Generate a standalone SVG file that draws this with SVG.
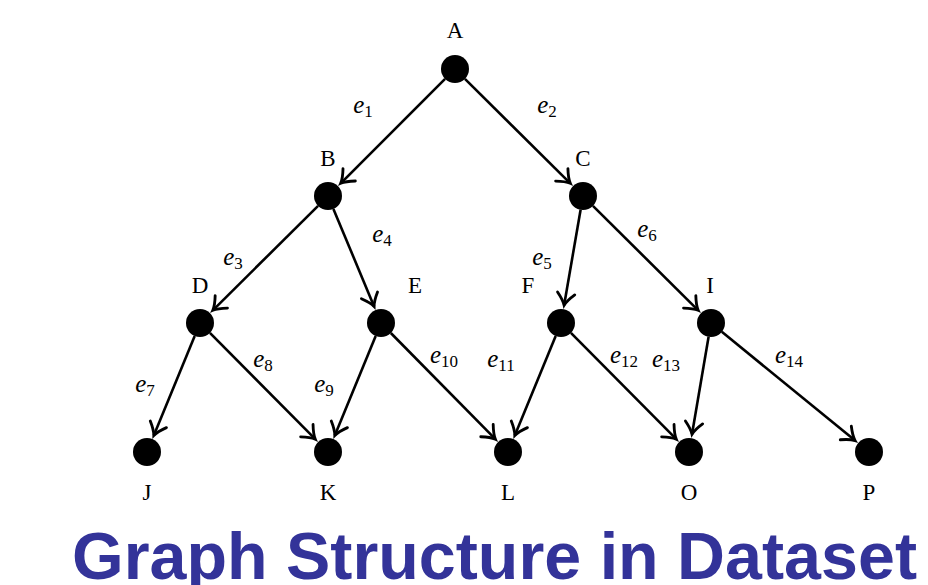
<svg xmlns="http://www.w3.org/2000/svg" width="928" height="585" viewBox="0 0 928 585">
<style>
.node{fill:#000}
.lbl{font-family:"Liberation Serif","DejaVu Serif",serif;font-size:23px;fill:#000;text-anchor:middle}
.el{font-family:"Liberation Serif","DejaVu Serif",serif;font-style:italic;font-size:25px;fill:#000;text-anchor:middle}
.sub{font-style:normal;font-size:17px}
.edge{stroke:#000;stroke-width:2.6;fill:none;marker-end:url(#arr)}
.title{font-family:"Liberation Sans",Arial,sans-serif;font-weight:bold;font-size:66px;fill:#333399}
</style>
<defs>
<marker id="arr" markerUnits="userSpaceOnUse" markerWidth="24" markerHeight="24" refX="0" refY="0" viewBox="-13 -11 15 22" orient="auto" overflow="visible">
<path d="M-11,-8 Q-4.5,-1.8 0,0 Q-4.5,1.8 -11,8" stroke="#000" stroke-width="2.6" fill="none" stroke-linecap="round"/>
</marker>
</defs>
<g id="connectors">
<line class="edge" x1="445.1" y1="78.9" x2="340.7" y2="183.3"/>
<line class="edge" x1="464.9" y1="78.9" x2="570.3" y2="183.3"/>
<line class="edge" x1="318.1" y1="205.9" x2="212.8" y2="310.3"/>
<line class="edge" x1="333.4" y1="208.9" x2="374.1" y2="306.4"/>
<line class="edge" x1="580.6" y1="209.8" x2="564.1" y2="305.3"/>
<line class="edge" x1="592.9" y1="205.9" x2="698.2" y2="310.3"/>
<line class="edge" x1="194.7" y1="336.0" x2="153.8" y2="435.4"/>
<line class="edge" x1="209.9" y1="332.9" x2="315.3" y2="439.2"/>
<line class="edge" x1="375.7" y1="336.0" x2="334.8" y2="435.4"/>
<line class="edge" x1="390.8" y1="333.0" x2="495.4" y2="439.2"/>
<line class="edge" x1="555.7" y1="336.0" x2="514.8" y2="435.4"/>
<line class="edge" x1="570.9" y1="332.9" x2="676.3" y2="439.2"/>
<line class="edge" x1="708.6" y1="336.8" x2="692.0" y2="434.3"/>
<line class="edge" x1="721.8" y1="331.8" x2="855.1" y2="440.6"/>
<g id="edge-labels">
<text class="el" x="363" y="113">e<tspan class="sub" dy="4">1</tspan></text>
<text class="el" x="547" y="113">e<tspan class="sub" dy="4">2</tspan></text>
<text class="el" x="233" y="265">e<tspan class="sub" dy="4">3</tspan></text>
<text class="el" x="382" y="242">e<tspan class="sub" dy="4">4</tspan></text>
<text class="el" x="542" y="265">e<tspan class="sub" dy="4">5</tspan></text>
<text class="el" x="647" y="237">e<tspan class="sub" dy="4">6</tspan></text>
<text class="el" x="145" y="392">e<tspan class="sub" dy="4">7</tspan></text>
<text class="el" x="263" y="367">e<tspan class="sub" dy="4">8</tspan></text>
<text class="el" x="324" y="392">e<tspan class="sub" dy="4">9</tspan></text>
<text class="el" x="444" y="363">e<tspan class="sub" dy="4">10</tspan></text>
<text class="el" x="501" y="367">e<tspan class="sub" dy="4">11</tspan></text>
<text class="el" x="624" y="363">e<tspan class="sub" dy="4">12</tspan></text>
<text class="el" x="666" y="367">e<tspan class="sub" dy="4">13</tspan></text>
<text class="el" x="789" y="363">e<tspan class="sub" dy="4">14</tspan></text>
</g>
</g>
<g id="A"><circle class="node" cx="455" cy="69" r="14"/><text class="lbl" x="455" y="38">A</text></g>
<g id="B"><circle class="node" cx="328" cy="196" r="14"/><text class="lbl" x="328" y="166">B</text></g>
<g id="C"><circle class="node" cx="583" cy="196" r="14"/><text class="lbl" x="583" y="166">C</text></g>
<g id="D"><circle class="node" cx="200" cy="323" r="14"/><text class="lbl" x="200" y="293">D</text></g>
<g id="E"><circle class="node" cx="381" cy="323" r="14"/><text class="lbl" x="415" y="293">E</text></g>
<g id="F"><circle class="node" cx="561" cy="323" r="14"/><text class="lbl" x="528" y="293">F</text></g>
<g id="I"><circle class="node" cx="711" cy="323" r="14"/><text class="lbl" x="710" y="293">I</text></g>
<g id="J"><circle class="node" cx="147" cy="452" r="14"/><text class="lbl" x="147" y="500">J</text></g>
<g id="K"><circle class="node" cx="328" cy="452" r="14"/><text class="lbl" x="328" y="500">K</text></g>
<g id="L"><circle class="node" cx="508" cy="452" r="14"/><text class="lbl" x="508" y="500">L</text></g>
<g id="O"><circle class="node" cx="689" cy="452" r="14"/><text class="lbl" x="689" y="500">O</text></g>
<g id="P"><circle class="node" cx="869" cy="452" r="14"/><text class="lbl" x="869" y="500">P</text></g>
<text class="title" x="72" y="579" textLength="845" lengthAdjust="spacingAndGlyphs">Graph Structure in Dataset</text>
</svg>
